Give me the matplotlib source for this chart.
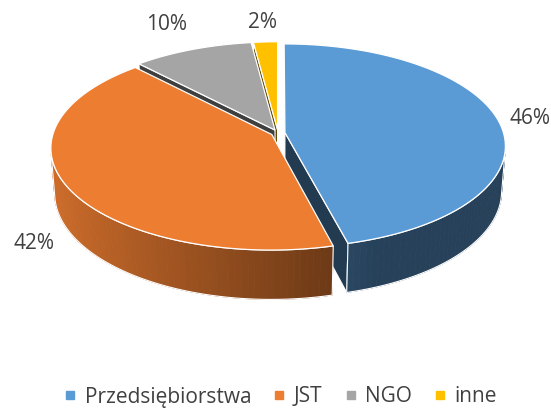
import numpy as np
import matplotlib
matplotlib.use("Agg")
import matplotlib.pyplot as plt
from matplotlib.patches import Polygon
from matplotlib.lines import Line2D

plt.rcParams["font.family"] = ["Open Sans", "DejaVu Sans"]

# udział podmiotów (%)
categories = ["Przedsiębiorstwa", "JST", "NGO", "inne"]
shares = [46, 42, 10, 2]
colors = ["#5B9BD5", "#ED7D31", "#A5A5A5", "#FFC000"]

# pozycje etykiet: promień względem tortu i poziom (góra / dół ściany)
label_radius = [1.15, 1.17, 1.36, 1.25]
label_on_top = [True, False, True, True]

W, H = 551, 408
CX, CY = 278, 133          # środek górnej powierzchni na ekranie (px)
SCALE = 215                # px na promień
ELEV = np.radians(29)      # nachylenie kamery
DIST = 6.9                 # odległość kamery (perspektywa)
THICK = 0.235              # grubość tortu
EXPLODE = 0.032
TEXT_COLOR = "#404040"
FONT_SIZE = 15

sin_e, cos_e = np.sin(ELEV), np.cos(ELEV)
_sy0 = THICK * cos_e * DIST / (DIST - THICK * sin_e)
OY = CY + SCALE * _sy0


def project(X, Y, Z):
    depth = DIST + Z * cos_e - Y * sin_e
    sx = X * DIST / depth
    sy = (Y * cos_e + Z * sin_e) * DIST / depth
    return CX + SCALE * sx, OY - SCALE * sy, depth


def shade(hex_color, f):
    rgb = np.array(matplotlib.colors.to_rgb(hex_color))
    return tuple(np.clip(rgb * f, 0, 1))


def wall_factor(theta):
    return float(np.clip(0.46 + 0.42 * (0.25 - np.cos(theta)) / 1.25, 0.42, 0.9))


def signed_area(pts):
    x, y = pts[:, 0], pts[:, 1]
    return 0.5 * np.sum(x * np.roll(y, -1) - np.roll(x, -1) * y)


fig = plt.figure(figsize=(W / 100, H / 100), dpi=100)
ax = fig.add_axes([0, 0, 1, 1])
ax.set_xlim(0, W)
ax.set_ylim(H, 0)
ax.axis("off")

# kąty wycinków: start na godz. 12, zgodnie z ruchem wskazówek zegara
fractions = np.array(shares) / np.sum(shares)
ends_cw = 90 - 360 * np.cumsum(fractions)
starts_cw = np.concatenate([[90], ends_cw[:-1]])

walls = []   # (głębokość, wielokąt, kolor, krawędź)
tops = []
slices = []

for i, val in enumerate(shares):
    th_s = np.radians(ends_cw[i])      # kąt początkowy (przeciwnie do wskazówek)
    th_e = np.radians(starts_cw[i])
    mid = 0.5 * (th_s + th_e)
    ox, oz = EXPLODE * np.cos(mid), EXPLODE * np.sin(mid)
    slices.append((th_s, th_e, mid, ox, oz))

    def pt(r, th, Y):
        return project(ox + r * np.cos(th), Y, oz + r * np.sin(th))

    n = max(int(np.degrees(th_e - th_s) / 1.5), 2)
    thetas = np.linspace(th_s, th_e, n + 1)

    # ściana boczna (pasy z cieniowaniem)
    vis = []
    for a, b in zip(thetas[:-1], thetas[1:]):
        p = np.array([pt(1, a, THICK)[:2], pt(1, b, THICK)[:2],
                      pt(1, b, 0)[:2], pt(1, a, 0)[:2]])
        if signed_area(p) <= 0:
            continue
        d = np.mean([pt(1, a, THICK)[2], pt(1, b, 0)[2]])
        c = shade(colors[i], wall_factor(0.5 * (a + b)))
        walls.append((d, p, c, None))
        vis.append((a, b))
    if vis:
        a0, b0 = vis[0][0], vis[-1][1]
        arc = np.linspace(a0, b0, 80)
        outline = [pt(1, t, THICK)[:2] for t in arc] + [pt(1, t, 0)[:2] for t in arc[::-1]]
        d = min(pt(1, t, 0)[2] for t in arc) - 1.0
        walls.append((d, np.array(outline), "none", "white"))

    # płaszczyzny przekroju
    faces = [
        (th_s, [pt(0, 0, THICK), pt(1, th_s, THICK), pt(1, th_s, 0), pt(0, 0, 0)]),
        (th_e, [pt(0, 0, THICK), pt(0, 0, 0), pt(1, th_e, 0), pt(1, th_e, THICK)]),
    ]
    for th, q in faces:
        p = np.array([v[:2] for v in q])
        if signed_area(p) <= 0:
            continue
        d = np.mean([v[2] for v in q])
        walls.append((d, p, shade(colors[i], 0.38), "white"))

    # góra wycinka
    top = [pt(0, 0, THICK)[:2]] + [pt(1, t, THICK)[:2] for t in thetas]
    tops.append((np.array(top), colors[i]))

for d, p, c, ec in sorted(walls, key=lambda w: -w[0]):
    if ec is None:
        ax.add_patch(Polygon(p, closed=True, facecolor=c, edgecolor=c, lw=0.6))
    else:
        ax.add_patch(Polygon(p, closed=True, facecolor=c, edgecolor=ec, lw=0.8))

for p, c in tops:
    ax.add_patch(Polygon(p, closed=True, facecolor=c, edgecolor="white", lw=0.9))

# etykiety procentowe
for i, val in enumerate(shares):
    th_s, th_e, mid, ox, oz = slices[i]
    r = label_radius[i]
    Y = THICK if label_on_top[i] else 0
    x, y, _ = project(ox + r * np.cos(mid), Y, oz + r * np.sin(mid))
    ax.text(x, y, f"{val}%", ha="center", va="center", fontsize=FONT_SIZE, color=TEXT_COLOR)

handles = [Line2D([], [], ls="none", marker="s", markersize=5.5,
                  markerfacecolor=c, markeredgecolor=c) for c in colors]
fig.legend(handles, categories, loc="center", bbox_to_anchor=(281 / W, 1 - 397 / H),
           ncol=4, frameon=False, fontsize=FONT_SIZE, handlelength=0.5,
           handletextpad=0.45, columnspacing=1.1, labelcolor=TEXT_COLOR)

fig.savefig("out.png", dpi=100)
